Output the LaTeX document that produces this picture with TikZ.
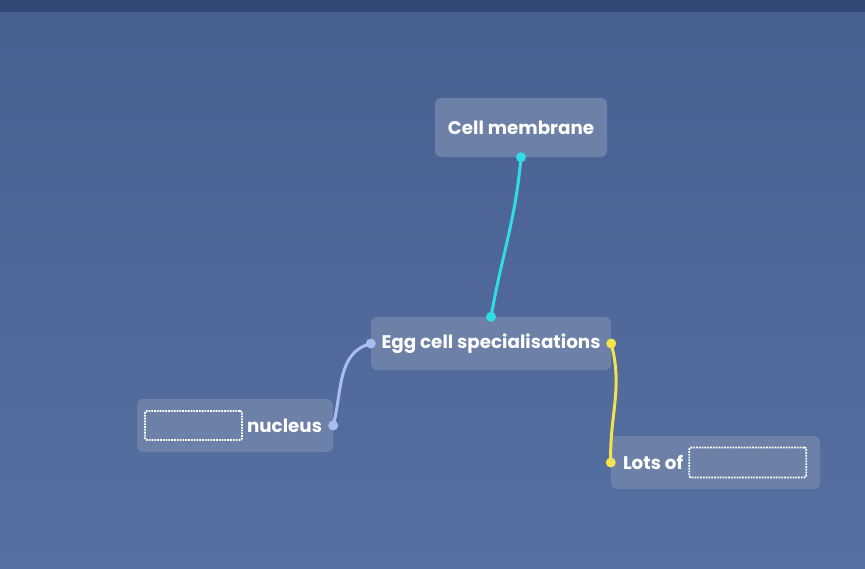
\documentclass[tikz,border=0pt]{standalone}
\usepackage{fontspec}
\setmainfont{Poppins}
\usetikzlibrary{positioning}

\definecolor{screenbg}{RGB}{72,96,144}
\definecolor{screenlow}{RGB}{86,112,162}
\definecolor{topstrip}{RGB}{52,72,118}
\definecolor{cardfill}{RGB}{108,128,168}
\definecolor{linkcyan}{RGB}{48,220,230}
\definecolor{linklav}{RGB}{170,188,242}
\definecolor{linkyel}{RGB}{242,226,76}

\tikzset{
  card/.style={fill=cardfill, rounded corners=6pt, inner sep=0pt},
  cardtext/.style={text=white, font=\bfseries\fontsize{18.3}{21}\selectfont, inner sep=0pt},
  blank/.style={draw=white, densely dotted, line width=1.8pt, rounded corners=2pt, inner sep=0pt},
  link/.style={line width=3pt, line cap=round},
  knob/.style={circle, inner sep=0pt, minimum size=10pt}
}

\begin{document}
\begin{tikzpicture}[x=1pt,y=-1pt]
  % screen background
  \shade[top color=screenbg, bottom color=screenlow] (0,0) rectangle (865,568);
  \fill[topstrip] (0,0) rectangle (865,12);
  \useasboundingbox (0,0) rectangle (865,568);

  % cards
  \node[card, minimum width=172pt, minimum height=59pt] (cell) at (521,127.5) {};
  \node[cardtext] (celltxt) at (cell.center) {Cell membrane};

  \node[card, minimum width=240pt, minimum height=53pt] (egg) at (491,343.5) {};
  \node[cardtext] (eggtxt) at (egg.center) {Egg cell specialisations};

  \node[card, minimum width=196pt, minimum height=53pt] (nuc) at (235,425.5) {};
  \node[cardtext, anchor=east] (nuctxt) at ([xshift=-11pt]nuc.east) {nucleus};
  \node[blank, left=4pt of nuctxt, minimum width=97pt, minimum height=29pt] (nucgap) {};

  \node[card, minimum width=209pt, minimum height=53pt] (lots) at (715.5,462.5) {};
  \node[cardtext, anchor=west] (lotstxt) at ([xshift=12pt]lots.west) {Lots of};
  \node[blank, right=5pt of lotstxt, minimum width=117pt, minimum height=30pt] (lotsgap) {};

  % links between cards
  \draw[link, linkcyan] (cell.south) to[out=-95,in=80] (egg.north);
  \draw[link, linklav] (egg.west) to[out=195,in=75] (nuc.east);
  \draw[link, linkyel] (egg.east) to[out=-75,in=92] (lots.west);

  % end knobs
  \node[knob, fill=linkcyan] (k1) at (cell.south) {};
  \node[knob, fill=linkcyan] (k2) at (egg.north) {};
  \node[knob, fill=linklav] (k3) at (egg.west) {};
  \node[knob, fill=linklav] (k4) at (nuc.east) {};
  \node[knob, fill=linkyel] (k5) at (egg.east) {};
  \node[knob, fill=linkyel] (k6) at (lots.west) {};
\end{tikzpicture}
\end{document}
